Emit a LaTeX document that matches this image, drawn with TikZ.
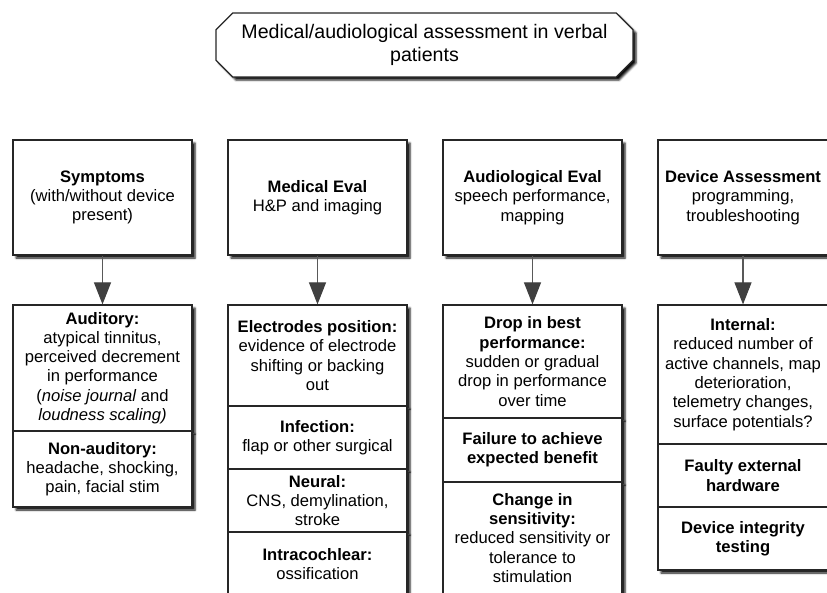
\documentclass[tikz,border=0pt]{standalone}
\usepackage{fontspec}
\setmainfont{Liberation Sans}
\usetikzlibrary{shapes.misc}
\usetikzlibrary{shadows.blur}
\usetikzlibrary{arrows.meta}

\begin{document}
\begin{tikzpicture}
[x=1pt,y=-1pt,%
  every node/.style={draw=black!85,line width=1.2pt,fill=white,align=center,inner sep=2pt,
    blur shadow={shadow xshift=3pt,shadow yshift=-3pt,shadow blur radius=2pt,shadow opacity=95}},%
  box/.style={rectangle,minimum width=179pt},%
  arr/.style={draw=black!65,line width=1.1pt,-{Triangle[width=17pt,length=22pt,color=black!75]}}]
\useasboundingbox (0,0) rectangle (827,592);
\clip (0,0) rectangle (827,592);
\fontsize{16.6}{19.3}\selectfont
\node[chamfered rectangle,chamfered rectangle xsep=11pt,minimum width=417pt,minimum height=64pt,
  font=\fontsize{19.6}{23}\selectfont] (title) at (424.5,45)
  {Medical/audiological assessment in verbal\\patients};

\node[box,minimum height=115pt] (symp) at (102.5,197.5)
  {\textbf{Symptoms}\\(with/without device\\present)};
\node[box,minimum height=126pt] (symp1) at (102.5,368)
  {\textbf{Auditory:}\\atypical tinnitus,\\perceived decrement\\in performance\\(\textit{noise journal} and\\\textit{loudness scaling)}};
\node[box,minimum height=76pt] (symp2) at (102.5,469)
  {\textbf{Non-auditory:}\\headache, shocking,\\pain, facial stim};

\node[box,minimum height=115pt] (med) at (317.5,197.5)
  {\textbf{Medical Eval}\\H\&P and imaging};
\node[box,minimum height=101pt] (med1) at (317.5,355.5)
  {\textbf{Electrodes position:}\\evidence of electrode\\shifting or backing\\out};
\node[box,minimum height=63pt] (med2) at (317.5,437.5)
  {\textbf{Infection:}\\flap or other surgical};
\node[box,minimum height=63pt] (med3) at (317.5,500.5)
  {\textbf{Neural:}\\CNS, demylination,\\stroke};
\node[box,minimum height=64pt] (med4) at (317.5,564)
  {\textbf{Intracochlear:}\\ossification};

\node[box,minimum height=115pt] (aud) at (532.5,197.5)
  {\textbf{Audiological Eval}\\speech performance,\\mapping};
\node[box,minimum height=113pt] (aud1) at (532.5,361.5)
  {\textbf{Drop in best}\\\textbf{performance:}\\sudden or gradual\\drop in performance\\over time};
\node[box,minimum height=64pt] (aud2) at (532.5,450)
  {\textbf{Failure to achieve}\\\textbf{expected benefit}};
\node[box,minimum height=112pt] (aud3) at (532.5,538)
  {\textbf{Change in}\\\textbf{sensitivity:}\\reduced sensitivity or\\tolerance to\\stimulation};

\node[box,minimum width=170pt,minimum height=115pt] (dev) at (743,197.5)
  {\textbf{Device Assessment}\\programming,\\troubleshooting};
\node[box,minimum width=170pt,minimum height=139pt] (dev1) at (743,374.5)
  {\textbf{Internal:}\\reduced number of\\active channels, map\\deterioration,\\telemetry changes,\\surface potentials?};
\node[box,minimum width=170pt,minimum height=63pt] (dev2) at (743,475.5)
  {\textbf{Faulty external}\\\textbf{hardware}};
\node[box,minimum width=170pt,minimum height=63pt] (dev3) at (743,538.5)
  {\textbf{Device integrity}\\\textbf{testing}};

\draw[arr] (symp) -- (symp1);
\draw[arr] (med) -- (med1);
\draw[arr] (aud) -- (aud1);
\draw[arr] (dev) -- (dev1);
\end{tikzpicture}
\end{document}
